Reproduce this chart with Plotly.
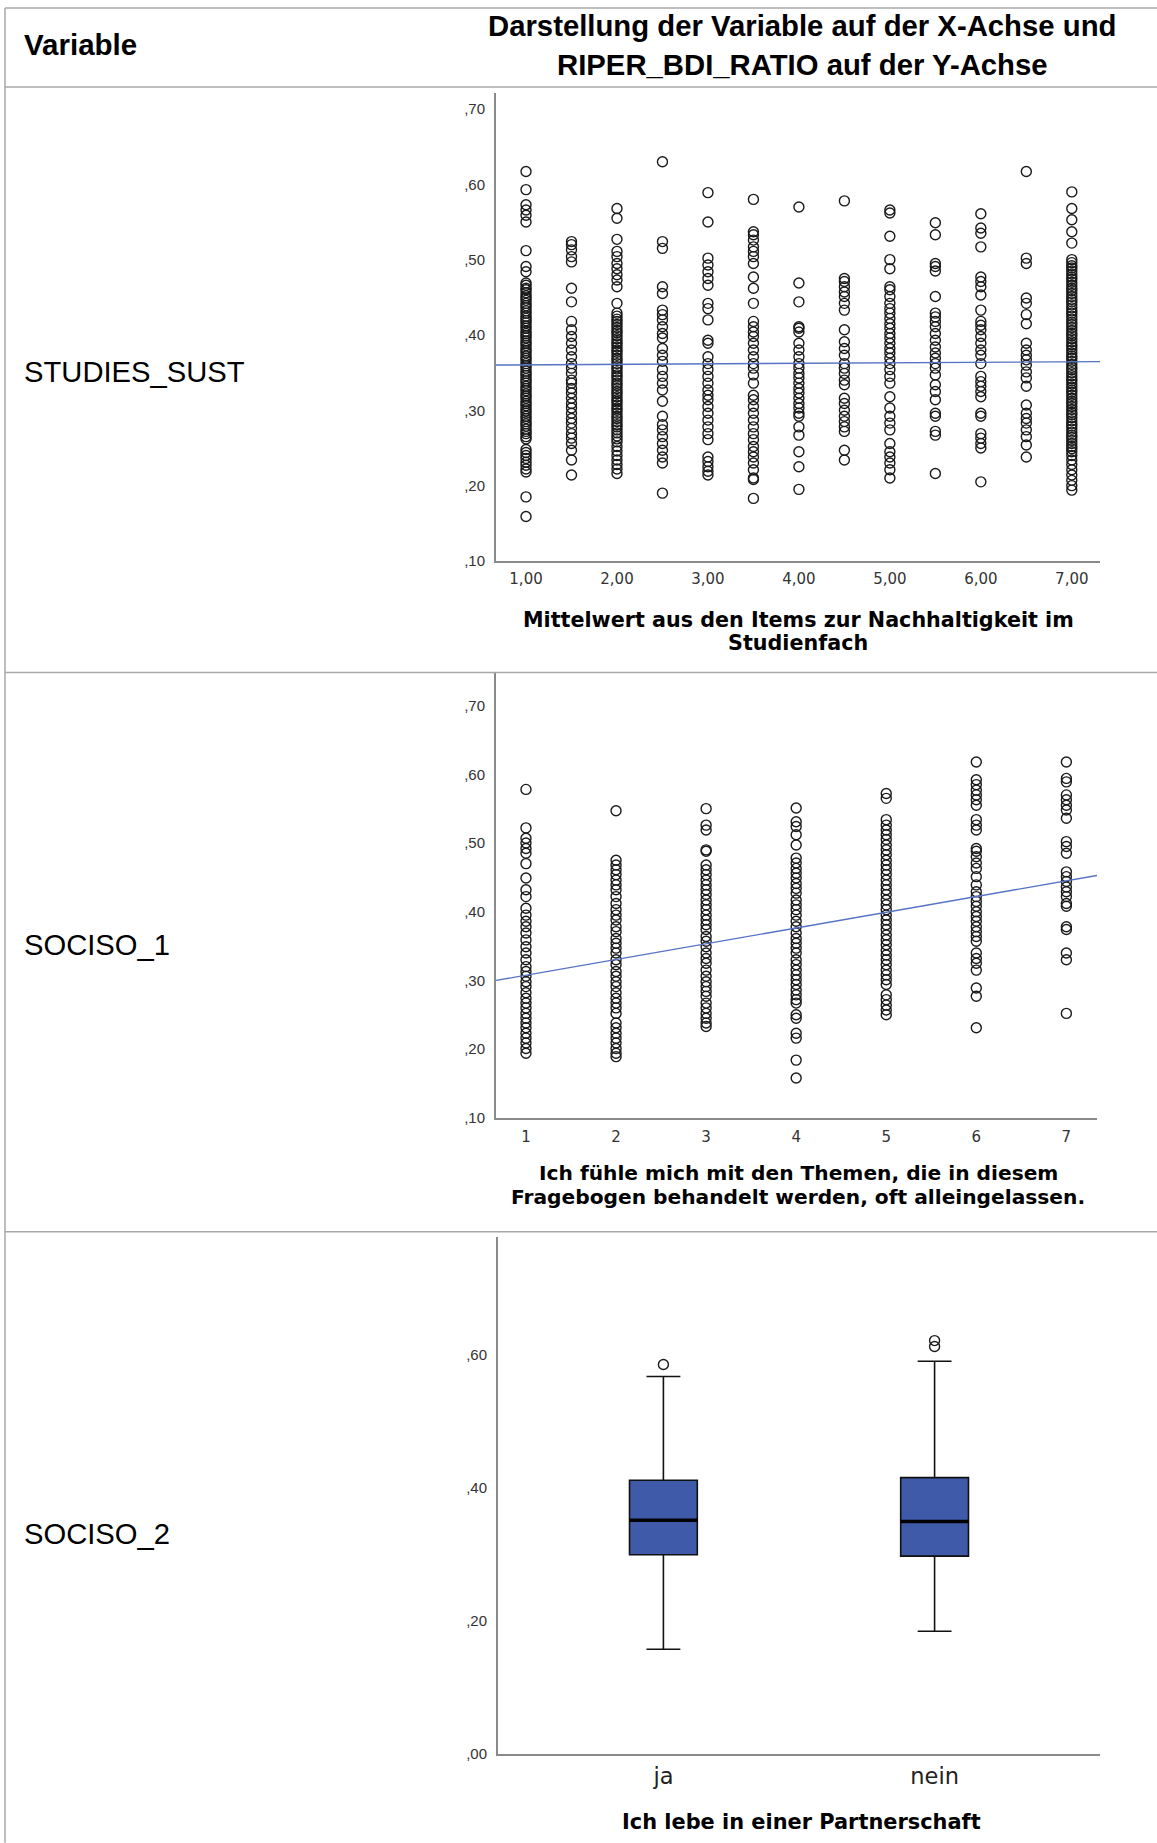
import plotly.graph_objects as go

W, H = 1157, 1843

# ---------------- Data: STUDIES_SUST (x) vs RIPER_BDI_RATIO (y) ----------------
sust_x = [1.0, 1.5, 2.0, 2.5, 3.0, 3.5, 4.0, 4.5, 5.0, 5.5, 6.0, 6.5, 7.0]
sust_1_00 = [0.617, 0.593, 0.573, 0.566, 0.559, 0.550, 0.512, 0.491, 0.484,
             0.469, 0.466, 0.462, 0.460, 0.456, 0.452, 0.449, 0.446, 0.442, 0.439, 0.436, 0.432,
             0.429, 0.425, 0.422, 0.419, 0.416, 0.412, 0.409, 0.405, 0.402, 0.399, 0.396, 0.392,
             0.389, 0.386, 0.382, 0.379, 0.376, 0.372, 0.369, 0.366, 0.362, 0.359, 0.356, 0.352,
             0.349, 0.346, 0.342, 0.339, 0.336, 0.332, 0.329, 0.326, 0.322, 0.319, 0.316, 0.312,
             0.309, 0.306, 0.302, 0.299, 0.296, 0.292, 0.289, 0.285, 0.282, 0.279, 0.275, 0.272,
             0.269, 0.265, 0.262, 0.248, 0.244, 0.240, 0.236, 0.231, 0.227, 0.222, 0.218,
             0.185, 0.159]
sust_1_50 = [0.524, 0.520, 0.513, 0.504, 0.497, 0.462, 0.444, 0.418, 0.407, 0.398, 0.389,
             0.380, 0.371, 0.362, 0.356, 0.349, 0.340, 0.336, 0.329, 0.323, 0.316, 0.309, 0.303,
             0.296, 0.289, 0.283, 0.276, 0.269, 0.263, 0.256, 0.247, 0.234, 0.214]
sust_2_00 = [0.568, 0.555, 0.527, 0.511, 0.504, 0.495, 0.488, 0.480, 0.473, 0.464, 0.442,
             0.429, 0.425, 0.421, 0.418, 0.414, 0.410, 0.406, 0.403, 0.399, 0.395, 0.391, 0.388,
             0.384, 0.380, 0.377, 0.373, 0.369, 0.366, 0.362, 0.358, 0.355, 0.351, 0.347, 0.344,
             0.340, 0.336, 0.333, 0.329, 0.325, 0.322, 0.318, 0.314, 0.311, 0.307, 0.303, 0.300,
             0.296, 0.292, 0.289, 0.285, 0.281, 0.278, 0.274, 0.270, 0.266, 0.262, 0.258, 0.252,
             0.246, 0.240, 0.234, 0.228, 0.222, 0.216]
sust_2_50 = [0.630, 0.524, 0.515, 0.464, 0.455, 0.433, 0.427, 0.420, 0.411, 0.402, 0.396,
             0.382, 0.373, 0.365, 0.354, 0.345, 0.336, 0.327, 0.312, 0.292, 0.281, 0.274, 0.265,
             0.256, 0.247, 0.238, 0.230, 0.190]
sust_3_00 = [0.589, 0.550, 0.502, 0.493, 0.484, 0.475, 0.466, 0.442, 0.435, 0.420, 0.393,
             0.389, 0.371, 0.362, 0.354, 0.345, 0.336, 0.327, 0.320, 0.314, 0.305, 0.296, 0.287,
             0.278, 0.269, 0.261, 0.238, 0.232, 0.225, 0.219, 0.214]
sust_3_50 = [0.580, 0.537, 0.533, 0.526, 0.517, 0.511, 0.504, 0.495, 0.477, 0.462, 0.442,
             0.418, 0.411, 0.404, 0.398, 0.389, 0.380, 0.371, 0.362, 0.356, 0.347, 0.336, 0.320,
             0.314, 0.305, 0.296, 0.287, 0.278, 0.269, 0.261, 0.252, 0.245, 0.238, 0.230, 0.221,
             0.210, 0.208, 0.183]
sust_4_00 = [0.570, 0.469, 0.444, 0.411, 0.409, 0.404, 0.389, 0.380, 0.371, 0.362, 0.356,
             0.349, 0.343, 0.336, 0.329, 0.323, 0.316, 0.309, 0.303, 0.296, 0.292, 0.278, 0.267,
             0.245, 0.225, 0.195]
sust_4_50 = [0.578, 0.475, 0.471, 0.464, 0.457, 0.451, 0.442, 0.433, 0.407, 0.391, 0.382,
             0.373, 0.362, 0.356, 0.349, 0.340, 0.334, 0.316, 0.309, 0.300, 0.292, 0.285, 0.278,
             0.272, 0.247, 0.234]
sust_5_00 = [0.566, 0.562, 0.531, 0.500, 0.488, 0.464, 0.460, 0.451, 0.442, 0.435, 0.429,
             0.422, 0.415, 0.409, 0.402, 0.396, 0.389, 0.382, 0.376, 0.369, 0.362, 0.354, 0.345,
             0.336, 0.318, 0.303, 0.292, 0.283, 0.274, 0.256, 0.245, 0.238, 0.230, 0.221, 0.210]
sust_5_50 = [0.549, 0.533, 0.495, 0.491, 0.485, 0.451, 0.429, 0.424, 0.418, 0.411, 0.402,
             0.393, 0.384, 0.376, 0.369, 0.362, 0.356, 0.347, 0.334, 0.325, 0.314, 0.296, 0.292,
             0.272, 0.267, 0.216]
sust_6_00 = [0.561, 0.542, 0.535, 0.517, 0.477, 0.471, 0.464, 0.453, 0.433, 0.418, 0.413,
             0.407, 0.398, 0.389, 0.380, 0.373, 0.362, 0.345, 0.338, 0.332, 0.325, 0.318, 0.296,
             0.292, 0.269, 0.263, 0.256, 0.250, 0.205]
sust_6_50 = [0.617, 0.502, 0.495, 0.449, 0.442, 0.427, 0.415, 0.389, 0.380, 0.373, 0.367,
             0.360, 0.351, 0.343, 0.332, 0.307, 0.296, 0.289, 0.283, 0.274, 0.265, 0.254, 0.238]
sust_7_00 = [0.590, 0.568, 0.553, 0.537, 0.522,
             0.500, 0.496, 0.492, 0.489, 0.485, 0.481, 0.477, 0.474, 0.470, 0.466, 0.462, 0.459,
             0.455, 0.451, 0.447, 0.444, 0.440, 0.436, 0.432, 0.429, 0.425, 0.421, 0.417, 0.414,
             0.410, 0.406, 0.402, 0.399, 0.395, 0.391, 0.387, 0.384, 0.380, 0.376, 0.372, 0.369,
             0.365, 0.361, 0.357, 0.354, 0.350, 0.346, 0.342, 0.339, 0.335, 0.331, 0.327, 0.324,
             0.320, 0.316, 0.312, 0.309, 0.305, 0.301, 0.297, 0.294, 0.290, 0.286, 0.282, 0.279,
             0.275, 0.271, 0.267, 0.264, 0.260, 0.256, 0.252, 0.249, 0.245, 0.240, 0.234, 0.228,
             0.221, 0.214, 0.207, 0.200, 0.194]
sust_cols = [sust_1_00, sust_1_50, sust_2_00, sust_2_50, sust_3_00, sust_3_50, sust_4_00,
             sust_4_50, sust_5_00, sust_5_50, sust_6_00, sust_6_50, sust_7_00]
sust_fit = (0.3596, 0.00068)        # intercept, slope of fit line
sust_xticks = [1, 2, 3, 4, 5, 6, 7]
sust_xticktext = ["1,00", "2,00", "3,00", "4,00", "5,00", "6,00", "7,00"]

# ---------------- Data: SOCISO_1 (x) vs RIPER_BDI_RATIO (y) ----------------
soc1_x = [1, 2, 3, 4, 5, 6, 7]
soc1_1 = [0.578, 0.522, 0.507, 0.500, 0.492, 0.485, 0.470, 0.449, 0.432, 0.422, 0.405, 0.395,
          0.386, 0.378, 0.369, 0.359, 0.349, 0.340, 0.330, 0.320, 0.313, 0.306, 0.298, 0.291,
          0.282, 0.274, 0.267, 0.260, 0.252, 0.245, 0.238, 0.231, 0.223, 0.216, 0.209, 0.201,
          0.194]
soc1_2 = [0.547, 0.475, 0.468, 0.461, 0.454, 0.446, 0.439, 0.432, 0.422, 0.412, 0.403, 0.395,
          0.388, 0.378, 0.371, 0.361, 0.354, 0.347, 0.340, 0.330, 0.323, 0.313, 0.306, 0.298,
          0.291, 0.282, 0.274, 0.267, 0.260, 0.252, 0.238, 0.231, 0.223, 0.216, 0.209, 0.201,
          0.194, 0.189]
soc1_3 = [0.550, 0.526, 0.519, 0.490, 0.488, 0.468, 0.461, 0.454, 0.446, 0.439, 0.432, 0.425,
          0.417, 0.410, 0.403, 0.395, 0.388, 0.381, 0.374, 0.364, 0.357, 0.349, 0.340, 0.332,
          0.325, 0.315, 0.306, 0.298, 0.291, 0.284, 0.277, 0.267, 0.260, 0.252, 0.245, 0.238,
          0.233]
soc1_4 = [0.551, 0.531, 0.524, 0.512, 0.497, 0.478, 0.471, 0.463, 0.456, 0.449, 0.441, 0.434,
          0.427, 0.417, 0.410, 0.403, 0.395, 0.386, 0.378, 0.369, 0.361, 0.354, 0.347, 0.340,
          0.330, 0.323, 0.315, 0.308, 0.301, 0.294, 0.286, 0.279, 0.272, 0.267, 0.250, 0.245,
          0.223, 0.216, 0.184, 0.158]
soc1_5 = [0.572, 0.565, 0.534, 0.526, 0.519, 0.512, 0.505, 0.497, 0.490, 0.483, 0.475, 0.468,
          0.461, 0.454, 0.446, 0.439, 0.432, 0.425, 0.417, 0.410, 0.403, 0.395, 0.388, 0.381,
          0.374, 0.366, 0.359, 0.352, 0.344, 0.337, 0.330, 0.323, 0.315, 0.308, 0.301, 0.294,
          0.279, 0.272, 0.264, 0.257, 0.250]
soc1_6 = [0.618, 0.592, 0.585, 0.577, 0.570, 0.563, 0.555, 0.534, 0.526, 0.519, 0.492, 0.488,
          0.480, 0.471, 0.463, 0.451, 0.439, 0.429, 0.422, 0.415, 0.408, 0.400, 0.393, 0.386,
          0.378, 0.371, 0.364, 0.357, 0.340, 0.332, 0.325, 0.315, 0.289, 0.277, 0.231]
soc1_7 = [0.618, 0.594, 0.589, 0.570, 0.563, 0.555, 0.548, 0.536, 0.502, 0.495, 0.485, 0.458,
          0.451, 0.444, 0.436, 0.429, 0.422, 0.412, 0.408, 0.378, 0.374, 0.340, 0.330, 0.252]
soc1_cols = [soc1_1, soc1_2, soc1_3, soc1_4, soc1_5, soc1_6, soc1_7]
soc1_fit = (0.2847, 0.0229)
soc1_xticks = [1, 2, 3, 4, 5, 6, 7]
soc1_xticktext = ["1", "2", "3", "4", "5", "6", "7"]

# ---------------- Data: SOCISO_2 box plot ----------------
box_cats = ["ja", "nein"]
box_q1 = [0.299, 0.297]
box_median = [0.351, 0.349]
box_q3 = [0.411, 0.415]
box_lower = [0.157, 0.184]
box_upper = [0.567, 0.590]
box_outliers = [[0.585], [0.612, 0.621]]

ytick_vals_a = [0.1, 0.2, 0.3, 0.4, 0.5, 0.6, 0.7]
ytick_text_a = [",10", ",20", ",30", ",40", ",50", ",60", ",70"]
ytick_vals_b = [0.0, 0.2, 0.4, 0.6]
ytick_text_b = [",00", ",20", ",40", ",60"]

# ---------------- helpers ----------------
KY = 1.0042   # small vertical calibration


def fx(px):
    return px / W


def fy(py):
    return 1 - (py * KY) / H


AXIS_COL = "#8a8a8a"
TICK_FONT_Y = dict(family="Arial, Liberation Sans, sans-serif", size=15, color="#333333")
TICK_FONT_X = dict(family="DejaVu Sans, sans-serif", size=15, color="#333333")
TABLE_FONT = "Arial, Liberation Sans, sans-serif"

fig = go.Figure()

marker = dict(symbol="circle-open", size=10, color="#1a1a1a", line=dict(width=1.4, color="#1a1a1a"))
LINE_COL = "#5572c4"

# chart 1
xs1, ys1 = [], []
for xv, col in zip(sust_x, sust_cols):
    xs1 += [xv] * len(col)
    ys1 += col
x1_range = [0.67, 7.31]
fig.add_trace(go.Scatter(x=xs1, y=ys1, mode="markers", marker=marker, xaxis="x", yaxis="y",
                         hoverinfo="skip"))
fig.add_trace(go.Scatter(x=x1_range, y=[sust_fit[0] + sust_fit[1] * v for v in x1_range],
                         mode="lines", line=dict(color=LINE_COL, width=1.4), xaxis="x", yaxis="y"))

# chart 2
xs2, ys2 = [], []
for xv, col in zip(soc1_x, soc1_cols):
    xs2 += [xv] * len(col)
    ys2 += col
x2_range = [0.667, 7.34]
fig.add_trace(go.Scatter(x=xs2, y=ys2, mode="markers", marker=marker, xaxis="x2", yaxis="y2",
                         hoverinfo="skip"))
fig.add_trace(go.Scatter(x=x2_range, y=[soc1_fit[0] + soc1_fit[1] * v for v in x2_range],
                         mode="lines", line=dict(color=LINE_COL, width=1.4), xaxis="x2", yaxis="y2"))

# chart 3 (box plot)
BOX_W = 0.25
for i, cat in enumerate(box_cats):
    fig.add_trace(go.Box(x=[i], q1=[box_q1[i]], median=[box_median[i]], q3=[box_q3[i]],
                         lowerfence=[box_lower[i]], upperfence=[box_upper[i]],
                         width=BOX_W, whiskerwidth=0.5, fillcolor="#3f5aa8",
                         line=dict(color="#111111", width=1.6), boxpoints=False,
                         xaxis="x3", yaxis="y3", name=cat))
    fig.add_trace(go.Scatter(x=[i - BOX_W / 2, i + BOX_W / 2], y=[box_median[i]] * 2,
                             mode="lines", line=dict(color="#000000", width=3.5),
                             xaxis="x3", yaxis="y3"))
    fig.add_trace(go.Scatter(x=[i] * len(box_outliers[i]), y=box_outliers[i], mode="markers",
                             marker=dict(symbol="circle-open", size=10, color="#1a1a1a",
                                         line=dict(width=1.4, color="#1a1a1a")),
                             xaxis="x3", yaxis="y3"))

common_x = dict(showline=True, linecolor=AXIS_COL, linewidth=2, showgrid=False, zeroline=False,
                ticks="", tickfont=TICK_FONT_X, fixedrange=True)
common_y = dict(showline=True, linecolor=AXIS_COL, linewidth=2, showgrid=False, zeroline=False,
                ticks="", tickfont=TICK_FONT_Y, ticklabelstandoff=6, fixedrange=True)

fig.update_layout(
    width=W, height=H, margin=dict(l=0, r=0, t=0, b=0),
    paper_bgcolor="white", plot_bgcolor="white", showlegend=False,
    xaxis=dict(domain=[fx(496), fx(1100)], range=x1_range, anchor="y",
               tickvals=sust_xticks, ticktext=sust_xticktext, ticklabelstandoff=3, **common_x),
    yaxis=dict(domain=[fy(561), fy(93)], range=[0.10, 0.7213], anchor="x",
               tickvals=ytick_vals_a, ticktext=ytick_text_a, **common_y),
    xaxis2=dict(domain=[fx(496), fx(1097)], range=x2_range, anchor="y2",
                tickvals=soc1_xticks, ticktext=soc1_xticktext, ticklabelstandoff=4, **common_x),
    yaxis2=dict(domain=[fy(1118), fy(673)], range=[0.10, 0.7476], anchor="x2",
                tickvals=ytick_vals_a, ticktext=ytick_text_a, **common_y),
    xaxis3=dict(domain=[fx(498), fx(1100)], range=[-0.61, 1.61], anchor="y3",
                tickvals=[0, 1], ticktext=box_cats, ticklabelstandoff=1,
                **{**common_x, "tickfont": dict(family="DejaVu Sans, sans-serif", size=22.5,
                                                color="#222222")}),
    yaxis3=dict(domain=[fy(1754), fy(1237)], range=[0.0, 0.777], anchor="x3",
                tickvals=ytick_vals_b, ticktext=ytick_text_b, **common_y),
)


# ---------------- table text ----------------
def ann(text, px, py, size, bold=False, family=TABLE_FONT, xanchor="center", color="#000000"):
    fig.add_annotation(text=f"<b>{text}</b>" if bold else text, x=fx(px), y=fy(py),
                       xref="paper", yref="paper", showarrow=False, xanchor=xanchor,
                       yanchor="middle", font=dict(family=family, size=size, color=color))


ann("Variable", 22, 45, 29.5, bold=True, xanchor="left")
ann("Darstellung der Variable auf der X-Achse und", 802, 26, 29.3, bold=True)
ann("RIPER_BDI_RATIO auf der Y-Achse", 802, 65, 29.3, bold=True)
ann("STUDIES_SUST", 22, 372, 29.2, xanchor="left")
ann("SOCISO_1", 22, 945, 29.2, xanchor="left")
ann("SOCISO_2", 22, 1534, 29.2, xanchor="left")

tf = "DejaVu Sans, sans-serif"
ann("Mittelwert aus den Items zur Nachhaltigkeit im", 798, 620, 20.7, bold=True, family=tf)
ann("Studienfach", 798, 643, 20.7, bold=True, family=tf)
ann("Ich fühle mich mit den Themen, die in diesem", 798, 1173, 20.2, bold=True, family=tf)
ann("Fragebogen behandelt werden, oft alleingelassen.", 798, 1197, 20.2, bold=True, family=tf)
ann("Ich lebe in einer Partnerschaft", 801, 1822, 20.9, bold=True, family=tf)

# ---------------- table borders ----------------
BORDER = "#a8a8a8"


def hline(py, x0=5, x1=1157):
    fig.add_shape(type="line", xref="paper", yref="paper", x0=fx(x0), x1=fx(x1), y0=fy(py), y1=fy(py),
                  line=dict(color=BORDER, width=1.5))


def vline(px, y0, y1):
    fig.add_shape(type="line", xref="paper", yref="paper", x0=fx(px), x1=fx(px), y0=fy(y0), y1=fy(y1),
                  line=dict(color=BORDER, width=1.5))


hline(8)
hline(87)
hline(672.5)
hline(1232)
vline(5, 8, 1843)

fig.write_html("out.html", config={"displayModeBar": False},
               post_script="document.body.style.margin='0';document.body.style.overflow='hidden';")
